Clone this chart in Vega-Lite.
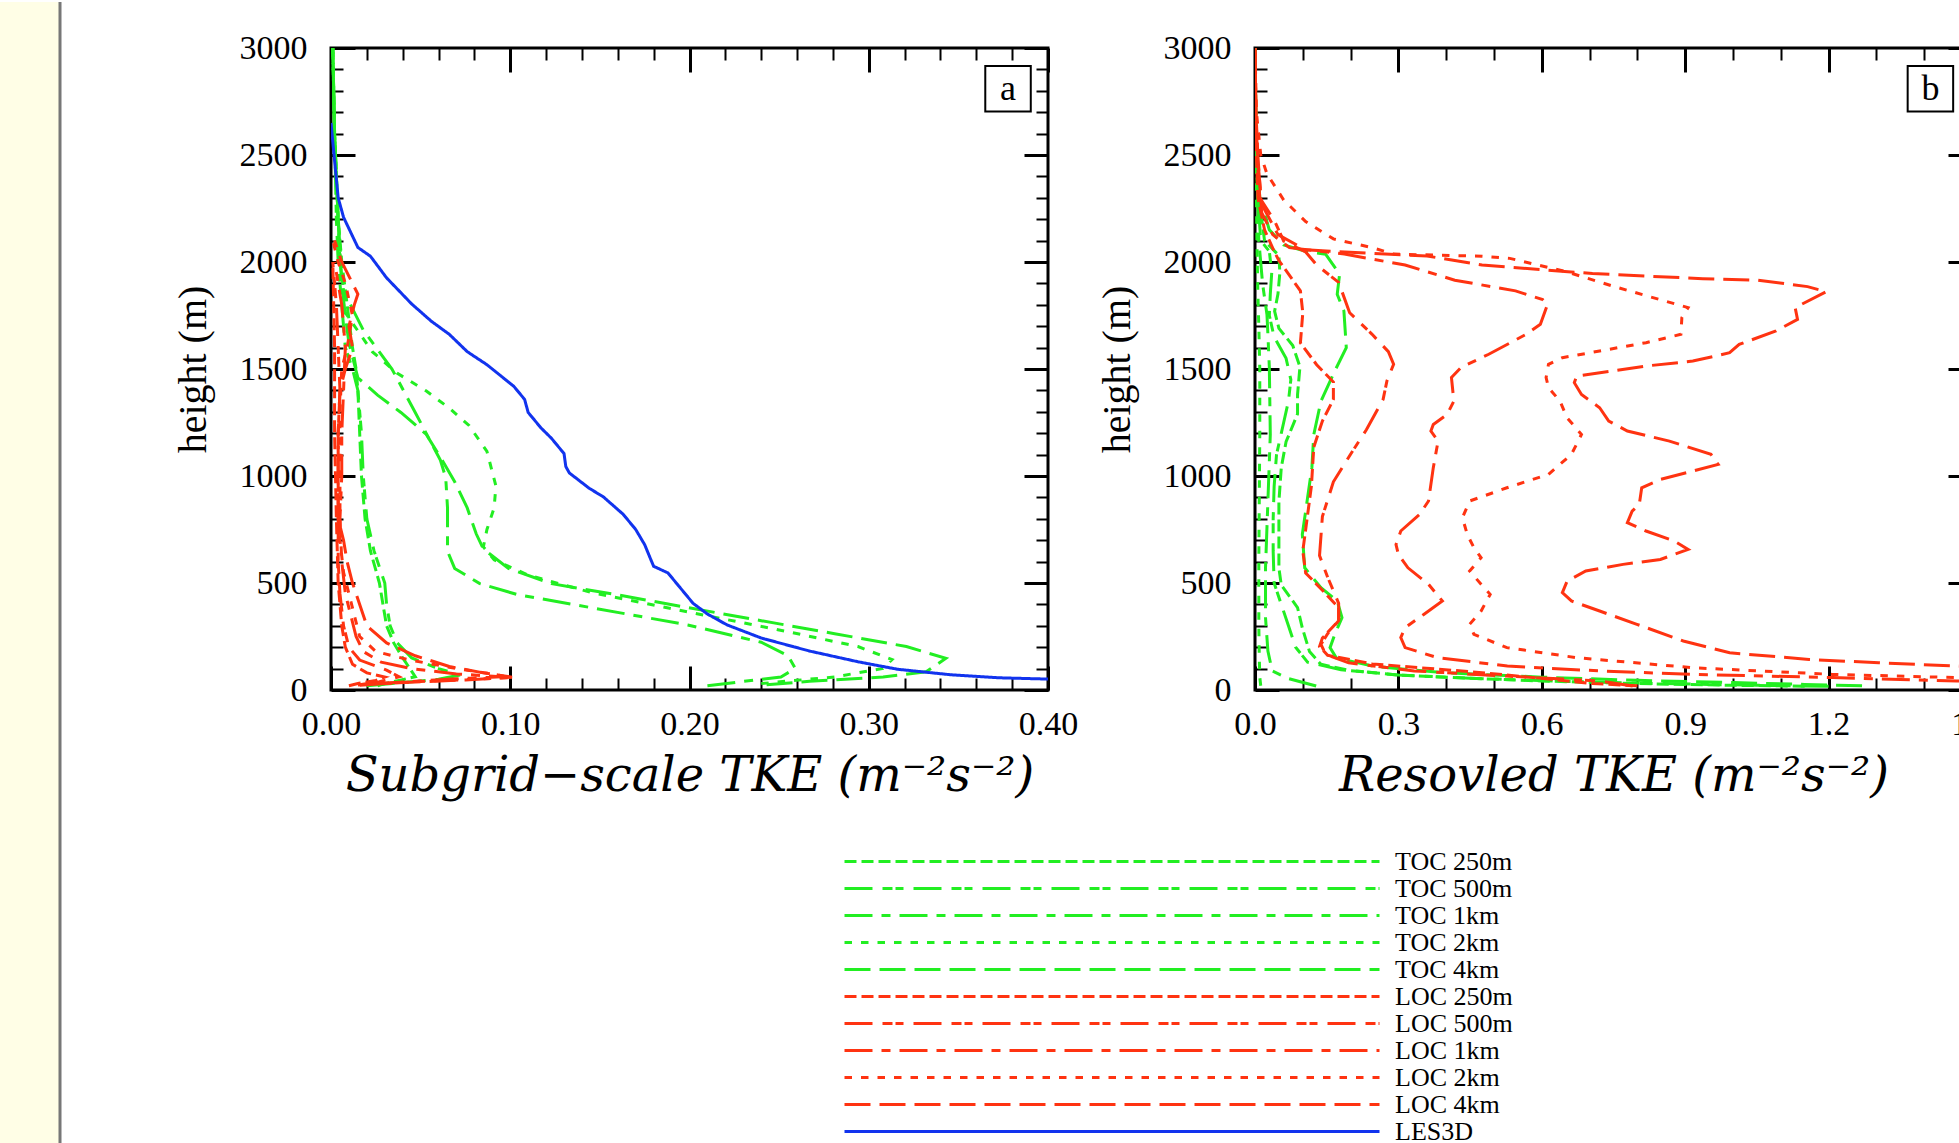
{
"$schema": "https://vega.github.io/schema/vega-lite/v6.json",
"padding": 0,
"background": "white",
"config": {
  "view": {"stroke": null},
  "axis": {"domain": false, "grid": false, "labelFont": "Liberation Serif", "labelFontSize": 34, "labelColor": "black", "tickColor": "black", "titleColor": "black", "titleFontWeight": "normal", "labelFlush": false, "labelOverlap": false, "labelBound": false},
  "legend": {"orient": "none", "legendX": 843, "legendY": 846, "symbolType": "stroke", "symbolSize": 286225, "symbolStrokeWidth": 3, "labelFont": "Liberation Serif", "labelFontSize": 26, "labelColor": "black", "labelLimit": 0, "labelOffset": 14, "clipHeight": 27, "rowPadding": 0, "padding": 0}
},
"datasets": {
"sgs": [
{"run":"TOC 250m","z":3000,"tke":0.001},{"run":"TOC 250m","z":2600,"tke":0.002},{"run":"TOC 250m","z":2200,"tke":0.004},{"run":"TOC 250m","z":2000,"tke":0.006},{"run":"TOC 250m","z":1800,"tke":0.009},{"run":"TOC 250m","z":1600,"tke":0.012},{"run":"TOC 250m","z":1500,"tke":0.014},{"run":"TOC 250m","z":1400,"tke":0.015},{"run":"TOC 250m","z":1200,"tke":0.016},{"run":"TOC 250m","z":1000,"tke":0.017},{"run":"TOC 250m","z":800,"tke":0.019},{"run":"TOC 250m","z":650,"tke":0.022},{"run":"TOC 250m","z":500,"tke":0.027},{"run":"TOC 250m","z":400,"tke":0.029},{"run":"TOC 250m","z":300,"tke":0.031},{"run":"TOC 250m","z":220,"tke":0.035},{"run":"TOC 250m","z":150,"tke":0.040},{"run":"TOC 250m","z":100,"tke":0.044},{"run":"TOC 250m","z":62,"tke":0.047},{"run":"TOC 250m","z":45,"tke":0.038},{"run":"TOC 250m","z":30,"tke":0.030},{"run":"TOC 250m","z":20,"tke":0.026},
{"run":"TOC 500m","z":3000,"tke":0.001},{"run":"TOC 500m","z":2600,"tke":0.002},{"run":"TOC 500m","z":2200,"tke":0.003},{"run":"TOC 500m","z":2000,"tke":0.004},{"run":"TOC 500m","z":1800,"tke":0.006},{"run":"TOC 500m","z":1600,"tke":0.008},{"run":"TOC 500m","z":1500,"tke":0.012},{"run":"TOC 500m","z":1400,"tke":0.015},{"run":"TOC 500m","z":1200,"tke":0.017},{"run":"TOC 500m","z":1000,"tke":0.018},{"run":"TOC 500m","z":800,"tke":0.020},{"run":"TOC 500m","z":650,"tke":0.024},{"run":"TOC 500m","z":500,"tke":0.030},{"run":"TOC 500m","z":400,"tke":0.031},{"run":"TOC 500m","z":300,"tke":0.033},{"run":"TOC 500m","z":220,"tke":0.037},{"run":"TOC 500m","z":150,"tke":0.045},{"run":"TOC 500m","z":100,"tke":0.060},{"run":"TOC 500m","z":70,"tke":0.072},{"run":"TOC 500m","z":50,"tke":0.060},{"run":"TOC 500m","z":35,"tke":0.040},{"run":"TOC 500m","z":20,"tke":0.020},
{"run":"TOC 1km","z":3000,"tke":0.001},{"run":"TOC 1km","z":2600,"tke":0.002},{"run":"TOC 1km","z":2200,"tke":0.004},{"run":"TOC 1km","z":2000,"tke":0.005},{"run":"TOC 1km","z":1865,"tke":0.007},{"run":"TOC 1km","z":1682,"tke":0.018},{"run":"TOC 1km","z":1500,"tke":0.034},{"run":"TOC 1km","z":1297,"tke":0.047},{"run":"TOC 1km","z":1074,"tke":0.061},{"run":"TOC 1km","z":993,"tke":0.064},{"run":"TOC 1km","z":851,"tke":0.065},{"run":"TOC 1km","z":649,"tke":0.065},{"run":"TOC 1km","z":568,"tke":0.069},{"run":"TOC 1km","z":497,"tke":0.083},{"run":"TOC 1km","z":446,"tke":0.104},{"run":"TOC 1km","z":385,"tke":0.145},{"run":"TOC 1km","z":304,"tke":0.199},{"run":"TOC 1km","z":223,"tke":0.240},{"run":"TOC 1km","z":160,"tke":0.255},{"run":"TOC 1km","z":101,"tke":0.259},{"run":"TOC 1km","z":61,"tke":0.251},{"run":"TOC 1km","z":20,"tke":0.210},
{"run":"TOC 2km","z":3000,"tke":0.001},{"run":"TOC 2km","z":2600,"tke":0.002},{"run":"TOC 2km","z":2200,"tke":0.004},{"run":"TOC 2km","z":1950,"tke":0.006},{"run":"TOC 2km","z":1763,"tke":0.008},{"run":"TOC 2km","z":1581,"tke":0.023},{"run":"TOC 2km","z":1480,"tke":0.037},{"run":"TOC 2km","z":1398,"tke":0.053},{"run":"TOC 2km","z":1317,"tke":0.066},{"run":"TOC 2km","z":1236,"tke":0.077},{"run":"TOC 2km","z":1115,"tke":0.087},{"run":"TOC 2km","z":953,"tke":0.092},{"run":"TOC 2km","z":851,"tke":0.091},{"run":"TOC 2km","z":750,"tke":0.087},{"run":"TOC 2km","z":669,"tke":0.085},{"run":"TOC 2km","z":608,"tke":0.091},{"run":"TOC 2km","z":537,"tke":0.110},{"run":"TOC 2km","z":456,"tke":0.145},{"run":"TOC 2km","z":365,"tke":0.199},{"run":"TOC 2km","z":274,"tke":0.254},{"run":"TOC 2km","z":203,"tke":0.294},{"run":"TOC 2km","z":142,"tke":0.313},{"run":"TOC 2km","z":101,"tke":0.308},{"run":"TOC 2km","z":61,"tke":0.281},{"run":"TOC 2km","z":41,"tke":0.254},{"run":"TOC 2km","z":30,"tke":0.240},
{"run":"TOC 4km","z":3000,"tke":0.001},{"run":"TOC 4km","z":2600,"tke":0.002},{"run":"TOC 4km","z":2200,"tke":0.004},{"run":"TOC 4km","z":1900,"tke":0.006},{"run":"TOC 4km","z":1750,"tke":0.008},{"run":"TOC 4km","z":1621,"tke":0.010},{"run":"TOC 4km","z":1459,"tke":0.015},{"run":"TOC 4km","z":1378,"tke":0.026},{"run":"TOC 4km","z":1297,"tke":0.039},{"run":"TOC 4km","z":1196,"tke":0.053},{"run":"TOC 4km","z":1074,"tke":0.062},{"run":"TOC 4km","z":973,"tke":0.069},{"run":"TOC 4km","z":851,"tke":0.076},{"run":"TOC 4km","z":730,"tke":0.081},{"run":"TOC 4km","z":659,"tke":0.085},{"run":"TOC 4km","z":568,"tke":0.099},{"run":"TOC 4km","z":497,"tke":0.123},{"run":"TOC 4km","z":446,"tke":0.159},{"run":"TOC 4km","z":385,"tke":0.199},{"run":"TOC 4km","z":324,"tke":0.240},{"run":"TOC 4km","z":263,"tke":0.281},{"run":"TOC 4km","z":203,"tke":0.321},{"run":"TOC 4km","z":148,"tke":0.343},{"run":"TOC 4km","z":85,"tke":0.332},{"run":"TOC 4km","z":61,"tke":0.308},{"run":"TOC 4km","z":41,"tke":0.267},{"run":"TOC 4km","z":24,"tke":0.243},
{"run":"LOC 250m","z":2000,"tke":0.001},{"run":"LOC 250m","z":1600,"tke":0.002},{"run":"LOC 250m","z":1200,"tke":0.002},{"run":"LOC 250m","z":800,"tke":0.003},{"run":"LOC 250m","z":500,"tke":0.004},{"run":"LOC 250m","z":300,"tke":0.006},{"run":"LOC 250m","z":200,"tke":0.008},{"run":"LOC 250m","z":120,"tke":0.012},{"run":"LOC 250m","z":80,"tke":0.020},{"run":"LOC 250m","z":60,"tke":0.030},{"run":"LOC 250m","z":45,"tke":0.025},{"run":"LOC 250m","z":30,"tke":0.015},{"run":"LOC 250m","z":20,"tke":0.010},
{"run":"LOC 500m","z":2000,"tke":0.001},{"run":"LOC 500m","z":1800,"tke":0.003},{"run":"LOC 500m","z":1600,"tke":0.004},{"run":"LOC 500m","z":1400,"tke":0.005},{"run":"LOC 500m","z":1200,"tke":0.004},{"run":"LOC 500m","z":1000,"tke":0.004},{"run":"LOC 500m","z":800,"tke":0.004},{"run":"LOC 500m","z":600,"tke":0.004},{"run":"LOC 500m","z":450,"tke":0.005},{"run":"LOC 500m","z":300,"tke":0.007},{"run":"LOC 500m","z":200,"tke":0.010},{"run":"LOC 500m","z":140,"tke":0.016},{"run":"LOC 500m","z":93,"tke":0.031},{"run":"LOC 500m","z":62,"tke":0.038},{"run":"LOC 500m","z":39,"tke":0.027},{"run":"LOC 500m","z":23,"tke":0.015},
{"run":"LOC 1km","z":2000,"tke":0.002},{"run":"LOC 1km","z":1800,"tke":0.006},{"run":"LOC 1km","z":1600,"tke":0.008},{"run":"LOC 1km","z":1400,"tke":0.007},{"run":"LOC 1km","z":1200,"tke":0.006},{"run":"LOC 1km","z":1000,"tke":0.006},{"run":"LOC 1km","z":800,"tke":0.005},{"run":"LOC 1km","z":600,"tke":0.006},{"run":"LOC 1km","z":450,"tke":0.008},{"run":"LOC 1km","z":350,"tke":0.011},{"run":"LOC 1km","z":250,"tke":0.014},{"run":"LOC 1km","z":180,"tke":0.018},{"run":"LOC 1km","z":130,"tke":0.028},{"run":"LOC 1km","z":100,"tke":0.045},{"run":"LOC 1km","z":75,"tke":0.070},{"run":"LOC 1km","z":62,"tke":0.095},{"run":"LOC 1km","z":52,"tke":0.070},{"run":"LOC 1km","z":40,"tke":0.045},{"run":"LOC 1km","z":30,"tke":0.025},
{"run":"LOC 2km","z":2100,"tke":0.001},{"run":"LOC 2km","z":2000,"tke":0.004},{"run":"LOC 2km","z":1900,"tke":0.008},{"run":"LOC 2km","z":1750,"tke":0.012},{"run":"LOC 2km","z":1600,"tke":0.009},{"run":"LOC 2km","z":1500,"tke":0.006},{"run":"LOC 2km","z":1300,"tke":0.005},{"run":"LOC 2km","z":1100,"tke":0.005},{"run":"LOC 2km","z":900,"tke":0.005},{"run":"LOC 2km","z":700,"tke":0.005},{"run":"LOC 2km","z":550,"tke":0.007},{"run":"LOC 2km","z":450,"tke":0.010},{"run":"LOC 2km","z":350,"tke":0.013},{"run":"LOC 2km","z":250,"tke":0.016},{"run":"LOC 2km","z":180,"tke":0.025},{"run":"LOC 2km","z":140,"tke":0.044},{"run":"LOC 2km","z":100,"tke":0.070},{"run":"LOC 2km","z":75,"tke":0.090},{"run":"LOC 2km","z":58,"tke":0.100},{"run":"LOC 2km","z":50,"tke":0.080},{"run":"LOC 2km","z":40,"tke":0.050},{"run":"LOC 2km","z":30,"tke":0.030},
{"run":"LOC 4km","z":2100,"tke":0.002},{"run":"LOC 4km","z":2000,"tke":0.006},{"run":"LOC 4km","z":1900,"tke":0.012},{"run":"LOC 4km","z":1850,"tke":0.015},{"run":"LOC 4km","z":1800,"tke":0.013},{"run":"LOC 4km","z":1700,"tke":0.010},{"run":"LOC 4km","z":1600,"tke":0.012},{"run":"LOC 4km","z":1500,"tke":0.008},{"run":"LOC 4km","z":1400,"tke":0.005},{"run":"LOC 4km","z":1200,"tke":0.004},{"run":"LOC 4km","z":1000,"tke":0.004},{"run":"LOC 4km","z":800,"tke":0.004},{"run":"LOC 4km","z":700,"tke":0.007},{"run":"LOC 4km","z":600,"tke":0.009},{"run":"LOC 4km","z":500,"tke":0.012},{"run":"LOC 4km","z":400,"tke":0.016},{"run":"LOC 4km","z":300,"tke":0.020},{"run":"LOC 4km","z":220,"tke":0.031},{"run":"LOC 4km","z":160,"tke":0.047},{"run":"LOC 4km","z":110,"tke":0.066},{"run":"LOC 4km","z":80,"tke":0.085},{"run":"LOC 4km","z":60,"tke":0.101},{"run":"LOC 4km","z":47,"tke":0.075},{"run":"LOC 4km","z":34,"tke":0.038},{"run":"LOC 4km","z":22,"tke":0.016},
{"run":"LES3D","z":2650,"tke":0.000},{"run":"LES3D","z":2473,"tke":0.002},{"run":"LES3D","z":2300,"tke":0.004},{"run":"LES3D","z":2209,"tke":0.007},{"run":"LES3D","z":2068,"tke":0.015},{"run":"LES3D","z":2027,"tke":0.022},{"run":"LES3D","z":1926,"tke":0.031},{"run":"LES3D","z":1804,"tke":0.045},{"run":"LES3D","z":1723,"tke":0.056},{"run":"LES3D","z":1662,"tke":0.066},{"run":"LES3D","z":1581,"tke":0.076},{"run":"LES3D","z":1520,"tke":0.087},{"run":"LES3D","z":1419,"tke":0.102},{"run":"LES3D","z":1358,"tke":0.108},{"run":"LES3D","z":1297,"tke":0.110},{"run":"LES3D","z":1226,"tke":0.117},{"run":"LES3D","z":1176,"tke":0.123},{"run":"LES3D","z":1105,"tke":0.130},{"run":"LES3D","z":1044,"tke":0.131},{"run":"LES3D","z":1014,"tke":0.133},{"run":"LES3D","z":943,"tke":0.144},{"run":"LES3D","z":902,"tke":0.152},{"run":"LES3D","z":821,"tke":0.163},{"run":"LES3D","z":750,"tke":0.170},{"run":"LES3D","z":679,"tke":0.175},{"run":"LES3D","z":618,"tke":0.178},{"run":"LES3D","z":578,"tke":0.180},{"run":"LES3D","z":547,"tke":0.188},{"run":"LES3D","z":486,"tke":0.194},{"run":"LES3D","z":405,"tke":0.202},{"run":"LES3D","z":355,"tke":0.210},{"run":"LES3D","z":304,"tke":0.221},{"run":"LES3D","z":243,"tke":0.240},{"run":"LES3D","z":182,"tke":0.267},{"run":"LES3D","z":132,"tke":0.294},{"run":"LES3D","z":97,"tke":0.316},{"run":"LES3D","z":71,"tke":0.346},{"run":"LES3D","z":57,"tke":0.373},{"run":"LES3D","z":51,"tke":0.400},{"run":"LES3D","z":49,"tke":0.420}
],
"res": [
{"run":"TOC 250m","z":3000,"tke":0.000},{"run":"TOC 250m","z":2600,"tke":0.002},{"run":"TOC 250m","z":2300,"tke":0.008},{"run":"TOC 250m","z":2100,"tke":0.020},{"run":"TOC 250m","z":2030,"tke":0.050},{"run":"TOC 250m","z":1950,"tke":0.052},{"run":"TOC 250m","z":1850,"tke":0.048},{"run":"TOC 250m","z":1770,"tke":0.041},{"run":"TOC 250m","z":1690,"tke":0.050},{"run":"TOC 250m","z":1610,"tke":0.079},{"run":"TOC 250m","z":1510,"tke":0.094},{"run":"TOC 250m","z":1380,"tke":0.089},{"run":"TOC 250m","z":1290,"tke":0.089},{"run":"TOC 250m","z":1160,"tke":0.065},{"run":"TOC 250m","z":1040,"tke":0.055},{"run":"TOC 250m","z":880,"tke":0.050},{"run":"TOC 250m","z":730,"tke":0.050},{"run":"TOC 250m","z":570,"tke":0.050},{"run":"TOC 250m","z":490,"tke":0.055},{"run":"TOC 250m","z":385,"tke":0.089},{"run":"TOC 250m","z":290,"tke":0.099},{"run":"TOC 250m","z":180,"tke":0.114},{"run":"TOC 250m","z":120,"tke":0.138},{"run":"TOC 250m","z":90,"tke":0.200},{"run":"TOC 250m","z":70,"tke":0.300},{"run":"TOC 250m","z":55,"tke":0.450},{"run":"TOC 250m","z":42,"tke":0.600},{"run":"TOC 250m","z":30,"tke":0.800},{"run":"TOC 250m","z":22,"tke":1.000},{"run":"TOC 250m","z":18,"tke":1.150},
{"run":"TOC 500m","z":3000,"tke":0.000},{"run":"TOC 500m","z":2600,"tke":0.002},{"run":"TOC 500m","z":2300,"tke":0.006},{"run":"TOC 500m","z":2100,"tke":0.012},{"run":"TOC 500m","z":2050,"tke":0.030},{"run":"TOC 500m","z":1950,"tke":0.035},{"run":"TOC 500m","z":1850,"tke":0.032},{"run":"TOC 500m","z":1750,"tke":0.030},{"run":"TOC 500m","z":1650,"tke":0.040},{"run":"TOC 500m","z":1550,"tke":0.065},{"run":"TOC 500m","z":1450,"tke":0.075},{"run":"TOC 500m","z":1350,"tke":0.070},{"run":"TOC 500m","z":1250,"tke":0.060},{"run":"TOC 500m","z":1100,"tke":0.045},{"run":"TOC 500m","z":950,"tke":0.040},{"run":"TOC 500m","z":800,"tke":0.038},{"run":"TOC 500m","z":650,"tke":0.038},{"run":"TOC 500m","z":500,"tke":0.040},{"run":"TOC 500m","z":400,"tke":0.055},{"run":"TOC 500m","z":300,"tke":0.070},{"run":"TOC 500m","z":200,"tke":0.085},{"run":"TOC 500m","z":130,"tke":0.110},{"run":"TOC 500m","z":95,"tke":0.180},{"run":"TOC 500m","z":70,"tke":0.300},{"run":"TOC 500m","z":55,"tke":0.450},{"run":"TOC 500m","z":40,"tke":0.650},{"run":"TOC 500m","z":30,"tke":0.850},{"run":"TOC 500m","z":22,"tke":1.050},{"run":"TOC 500m","z":17,"tke":1.200},
{"run":"TOC 1km","z":3000,"tke":0.000},{"run":"TOC 1km","z":2500,"tke":0.003},{"run":"TOC 1km","z":2100,"tke":0.008},{"run":"TOC 1km","z":1896,"tke":0.016},{"run":"TOC 1km","z":1755,"tke":0.025},{"run":"TOC 1km","z":1662,"tke":0.027},{"run":"TOC 1km","z":1507,"tke":0.030},{"run":"TOC 1km","z":1194,"tke":0.032},{"run":"TOC 1km","z":883,"tke":0.027},{"run":"TOC 1km","z":571,"tke":0.022},{"run":"TOC 1km","z":338,"tke":0.022},{"run":"TOC 1km","z":182,"tke":0.027},{"run":"TOC 1km","z":89,"tke":0.036},{"run":"TOC 1km","z":54,"tke":0.069},{"run":"TOC 1km","z":19,"tke":0.128},
{"run":"TOC 2km","z":3000,"tke":0.000},{"run":"TOC 2km","z":2500,"tke":0.002},{"run":"TOC 2km","z":2100,"tke":0.004},{"run":"TOC 2km","z":1850,"tke":0.006},{"run":"TOC 2km","z":1700,"tke":0.008},{"run":"TOC 2km","z":1500,"tke":0.010},{"run":"TOC 2km","z":1200,"tke":0.010},{"run":"TOC 2km","z":900,"tke":0.009},{"run":"TOC 2km","z":600,"tke":0.008},{"run":"TOC 2km","z":300,"tke":0.008},{"run":"TOC 2km","z":150,"tke":0.009},{"run":"TOC 2km","z":60,"tke":0.010},{"run":"TOC 2km","z":20,"tke":0.012},
{"run":"TOC 4km","z":3000,"tke":0.000},{"run":"TOC 4km","z":2600,"tke":0.002},{"run":"TOC 4km","z":2300,"tke":0.010},{"run":"TOC 4km","z":2150,"tke":0.030},{"run":"TOC 4km","z":2080,"tke":0.060},{"run":"TOC 4km","z":2050,"tke":0.106},{"run":"TOC 4km","z":2036,"tke":0.148},{"run":"TOC 4km","z":1943,"tke":0.177},{"run":"TOC 4km","z":1849,"tke":0.172},{"run":"TOC 4km","z":1771,"tke":0.186},{"run":"TOC 4km","z":1600,"tke":0.191},{"run":"TOC 4km","z":1491,"tke":0.167},{"run":"TOC 4km","z":1350,"tke":0.138},{"run":"TOC 4km","z":1194,"tke":0.123},{"run":"TOC 4km","z":1039,"tke":0.119},{"run":"TOC 4km","z":883,"tke":0.109},{"run":"TOC 4km","z":727,"tke":0.099},{"run":"TOC 4km","z":571,"tke":0.104},{"run":"TOC 4km","z":478,"tke":0.138},{"run":"TOC 4km","z":416,"tke":0.172},{"run":"TOC 4km","z":338,"tke":0.182},{"run":"TOC 4km","z":260,"tke":0.167},{"run":"TOC 4km","z":198,"tke":0.157},{"run":"TOC 4km","z":150,"tke":0.170},{"run":"TOC 4km","z":110,"tke":0.250},{"run":"TOC 4km","z":80,"tke":0.400},{"run":"TOC 4km","z":60,"tke":0.600},{"run":"TOC 4km","z":45,"tke":0.800},{"run":"TOC 4km","z":35,"tke":1.000},{"run":"TOC 4km","z":26,"tke":1.150},{"run":"TOC 4km","z":20,"tke":1.270},
{"run":"LOC 250m","z":3000,"tke":0.000},{"run":"LOC 250m","z":2700,"tke":0.001},{"run":"LOC 250m","z":2500,"tke":0.003},{"run":"LOC 250m","z":2300,"tke":0.006},{"run":"LOC 250m","z":2150,"tke":0.020},{"run":"LOC 250m","z":2050,"tke":0.040},{"run":"LOC 250m","z":2007,"tke":0.050},{"run":"LOC 250m","z":1865,"tke":0.095},{"run":"LOC 250m","z":1763,"tke":0.100},{"run":"LOC 250m","z":1622,"tke":0.095},{"run":"LOC 250m","z":1520,"tke":0.129},{"run":"LOC 250m","z":1439,"tke":0.164},{"run":"LOC 250m","z":1358,"tke":0.164},{"run":"LOC 250m","z":1257,"tke":0.141},{"run":"LOC 250m","z":1135,"tke":0.123},{"run":"LOC 250m","z":953,"tke":0.118},{"run":"LOC 250m","z":750,"tke":0.106},{"run":"LOC 250m","z":649,"tke":0.100},{"run":"LOC 250m","z":547,"tke":0.106},{"run":"LOC 250m","z":466,"tke":0.141},{"run":"LOC 250m","z":385,"tke":0.175},{"run":"LOC 250m","z":324,"tke":0.175},{"run":"LOC 250m","z":243,"tke":0.141},{"run":"LOC 250m","z":203,"tke":0.135},{"run":"LOC 250m","z":162,"tke":0.152},{"run":"LOC 250m","z":122,"tke":0.245},{"run":"LOC 250m","z":81,"tke":0.475},{"run":"LOC 250m","z":50,"tke":0.620},{"run":"LOC 250m","z":30,"tke":0.706},{"run":"LOC 250m","z":20,"tke":0.800},
{"run":"LOC 500m","z":3000,"tke":0.000},{"run":"LOC 500m","z":2700,"tke":0.001},{"run":"LOC 500m","z":2500,"tke":0.004},{"run":"LOC 500m","z":2300,"tke":0.010},{"run":"LOC 500m","z":2192,"tke":0.041},{"run":"LOC 500m","z":2098,"tke":0.060},{"run":"LOC 500m","z":2047,"tke":0.106},{"run":"LOC 500m","z":1986,"tke":0.129},{"run":"LOC 500m","z":1905,"tke":0.175},{"run":"LOC 500m","z":1763,"tke":0.198},{"run":"LOC 500m","z":1662,"tke":0.245},{"run":"LOC 500m","z":1581,"tke":0.279},{"run":"LOC 500m","z":1522,"tke":0.290},{"run":"LOC 500m","z":1444,"tke":0.276},{"run":"LOC 500m","z":1358,"tke":0.268},{"run":"LOC 500m","z":1216,"tke":0.233},{"run":"LOC 500m","z":1095,"tke":0.198},{"run":"LOC 500m","z":973,"tke":0.164},{"run":"LOC 500m","z":811,"tke":0.141},{"run":"LOC 500m","z":628,"tke":0.135},{"run":"LOC 500m","z":527,"tke":0.152},{"run":"LOC 500m","z":405,"tke":0.175},{"run":"LOC 500m","z":324,"tke":0.175},{"run":"LOC 500m","z":263,"tke":0.152},{"run":"LOC 500m","z":213,"tke":0.138},{"run":"LOC 500m","z":166,"tke":0.148},{"run":"LOC 500m","z":127,"tke":0.196},{"run":"LOC 500m","z":89,"tke":0.333},{"run":"LOC 500m","z":65,"tke":0.527},{"run":"LOC 500m","z":42,"tke":0.722},{"run":"LOC 500m","z":19,"tke":0.790},
{"run":"LOC 1km","z":3000,"tke":0.000},{"run":"LOC 1km","z":2700,"tke":0.002},{"run":"LOC 1km","z":2500,"tke":0.006},{"run":"LOC 1km","z":2230,"tke":0.014},{"run":"LOC 1km","z":2128,"tke":0.037},{"run":"LOC 1km","z":2067,"tke":0.072},{"run":"LOC 1km","z":2037,"tke":0.187},{"run":"LOC 1km","z":1986,"tke":0.314},{"run":"LOC 1km","z":1915,"tke":0.418},{"run":"LOC 1km","z":1865,"tke":0.545},{"run":"LOC 1km","z":1824,"tke":0.602},{"run":"LOC 1km","z":1802,"tke":0.612},{"run":"LOC 1km","z":1709,"tke":0.597},{"run":"LOC 1km","z":1662,"tke":0.567},{"run":"LOC 1km","z":1569,"tke":0.489},{"run":"LOC 1km","z":1507,"tke":0.431},{"run":"LOC 1km","z":1460,"tke":0.411},{"run":"LOC 1km","z":1350,"tke":0.416},{"run":"LOC 1km","z":1288,"tke":0.402},{"run":"LOC 1km","z":1241,"tke":0.373},{"run":"LOC 1km","z":1210,"tke":0.368},{"run":"LOC 1km","z":1163,"tke":0.383},{"run":"LOC 1km","z":1039,"tke":0.373},{"run":"LOC 1km","z":883,"tke":0.363},{"run":"LOC 1km","z":820,"tke":0.344},{"run":"LOC 1km","z":743,"tke":0.305},{"run":"LOC 1km","z":680,"tke":0.295},{"run":"LOC 1km","z":633,"tke":0.300},{"run":"LOC 1km","z":571,"tke":0.320},{"run":"LOC 1km","z":494,"tke":0.363},{"run":"LOC 1km","z":416,"tke":0.392},{"run":"LOC 1km","z":353,"tke":0.353},{"run":"LOC 1km","z":291,"tke":0.314},{"run":"LOC 1km","z":245,"tke":0.305},{"run":"LOC 1km","z":198,"tke":0.314},{"run":"LOC 1km","z":151,"tke":0.382},{"run":"LOC 1km","z":112,"tke":0.528},{"run":"LOC 1km","z":89,"tke":0.722},{"run":"LOC 1km","z":73,"tke":0.916},{"run":"LOC 1km","z":58,"tke":1.208},{"run":"LOC 1km","z":42,"tke":1.468},{"run":"LOC 1km","z":35,"tke":1.600},
{"run":"LOC 2km","z":3000,"tke":0.000},{"run":"LOC 2km","z":2700,"tke":0.003},{"run":"LOC 2km","z":2500,"tke":0.012},{"run":"LOC 2km","z":2412,"tke":0.025},{"run":"LOC 2km","z":2290,"tke":0.060},{"run":"LOC 2km","z":2189,"tke":0.106},{"run":"LOC 2km","z":2108,"tke":0.164},{"run":"LOC 2km","z":2067,"tke":0.245},{"run":"LOC 2km","z":2037,"tke":0.291},{"run":"LOC 2km","z":2027,"tke":0.475},{"run":"LOC 2km","z":2017,"tke":0.533},{"run":"LOC 2km","z":1956,"tke":0.649},{"run":"LOC 2km","z":1885,"tke":0.752},{"run":"LOC 2km","z":1804,"tke":0.879},{"run":"LOC 2km","z":1787,"tke":0.906},{"run":"LOC 2km","z":1740,"tke":0.893},{"run":"LOC 2km","z":1662,"tke":0.891},{"run":"LOC 2km","z":1623,"tke":0.818},{"run":"LOC 2km","z":1584,"tke":0.721},{"run":"LOC 2km","z":1553,"tke":0.643},{"run":"LOC 2km","z":1522,"tke":0.614},{"run":"LOC 2km","z":1460,"tke":0.609},{"run":"LOC 2km","z":1413,"tke":0.614},{"run":"LOC 2km","z":1350,"tke":0.638},{"run":"LOC 2km","z":1272,"tke":0.653},{"run":"LOC 2km","z":1194,"tke":0.683},{"run":"LOC 2km","z":1101,"tke":0.662},{"run":"LOC 2km","z":1008,"tke":0.614},{"run":"LOC 2km","z":945,"tke":0.527},{"run":"LOC 2km","z":883,"tke":0.449},{"run":"LOC 2km","z":805,"tke":0.434},{"run":"LOC 2km","z":727,"tke":0.444},{"run":"LOC 2km","z":665,"tke":0.458},{"run":"LOC 2km","z":618,"tke":0.473},{"run":"LOC 2km","z":556,"tke":0.449},{"run":"LOC 2km","z":494,"tke":0.473},{"run":"LOC 2km","z":447,"tke":0.492},{"run":"LOC 2km","z":369,"tke":0.473},{"run":"LOC 2km","z":307,"tke":0.449},{"run":"LOC 2km","z":260,"tke":0.458},{"run":"LOC 2km","z":198,"tke":0.527},{"run":"LOC 2km","z":151,"tke":0.673},{"run":"LOC 2km","z":104,"tke":0.916},{"run":"LOC 2km","z":73,"tke":1.208},{"run":"LOC 2km","z":58,"tke":1.468},{"run":"LOC 2km","z":50,"tke":1.600},
{"run":"LOC 4km","z":3000,"tke":0.000},{"run":"LOC 4km","z":2700,"tke":0.002},{"run":"LOC 4km","z":2500,"tke":0.005},{"run":"LOC 4km","z":2270,"tke":0.014},{"run":"LOC 4km","z":2128,"tke":0.048},{"run":"LOC 4km","z":2057,"tke":0.106},{"run":"LOC 4km","z":2040,"tke":0.245},{"run":"LOC 4km","z":2028,"tke":0.360},{"run":"LOC 4km","z":1986,"tke":0.475},{"run":"LOC 4km","z":1946,"tke":0.706},{"run":"LOC 4km","z":1922,"tke":0.937},{"run":"LOC 4km","z":1915,"tke":1.052},{"run":"LOC 4km","z":1885,"tke":1.156},{"run":"LOC 4km","z":1861,"tke":1.195},{"run":"LOC 4km","z":1787,"tke":1.130},{"run":"LOC 4km","z":1732,"tke":1.135},{"run":"LOC 4km","z":1678,"tke":1.090},{"run":"LOC 4km","z":1615,"tke":1.013},{"run":"LOC 4km","z":1576,"tke":0.993},{"run":"LOC 4km","z":1537,"tke":0.916},{"run":"LOC 4km","z":1514,"tke":0.818},{"run":"LOC 4km","z":1467,"tke":0.673},{"run":"LOC 4km","z":1436,"tke":0.668},{"run":"LOC 4km","z":1381,"tke":0.683},{"run":"LOC 4km","z":1319,"tke":0.721},{"run":"LOC 4km","z":1257,"tke":0.740},{"run":"LOC 4km","z":1210,"tke":0.779},{"run":"LOC 4km","z":1163,"tke":0.867},{"run":"LOC 4km","z":1101,"tke":0.954},{"run":"LOC 4km","z":1054,"tke":0.969},{"run":"LOC 4km","z":1023,"tke":0.916},{"run":"LOC 4km","z":984,"tke":0.848},{"run":"LOC 4km","z":945,"tke":0.809},{"run":"LOC 4km","z":868,"tke":0.804},{"run":"LOC 4km","z":836,"tke":0.789},{"run":"LOC 4km","z":782,"tke":0.779},{"run":"LOC 4km","z":743,"tke":0.818},{"run":"LOC 4km","z":696,"tke":0.877},{"run":"LOC 4km","z":657,"tke":0.906},{"run":"LOC 4km","z":610,"tke":0.848},{"run":"LOC 4km","z":587,"tke":0.770},{"run":"LOC 4km","z":556,"tke":0.692},{"run":"LOC 4km","z":509,"tke":0.653},{"run":"LOC 4km","z":455,"tke":0.643},{"run":"LOC 4km","z":416,"tke":0.662},{"run":"LOC 4km","z":369,"tke":0.721},{"run":"LOC 4km","z":307,"tke":0.799},{"run":"LOC 4km","z":229,"tke":0.896},{"run":"LOC 4km","z":174,"tke":0.993},{"run":"LOC 4km","z":143,"tke":1.159},{"run":"LOC 4km","z":127,"tke":1.305},{"run":"LOC 4km","z":112,"tke":1.468},{"run":"LOC 4km","z":100,"tke":1.600}
]
},
"spacing": 109,
"resolve": {"scale": {"color": "shared", "strokeDash": "shared"}, "legend": {"color": "shared", "strokeDash": "shared"}},
"hconcat": [
{
  "width": 60, "height": 1143,
  "view": {"fill": "#fffee6", "stroke": null},
  "data": {"values": [{"edge": 1}]},
  "mark": {"type": "rule", "color": "#777777", "strokeWidth": 3},
  "encoding": {"x": {"field": "edge", "type": "quantitative", "scale": {"domain": [0, 1]}, "axis": null}}
},
{
  "spacing": 0,
  "resolve": {"scale": {"color": "shared", "strokeDash": "shared"}, "legend": {"color": "shared", "strokeDash": "shared"}},
  "vconcat": [
  {
    "width": 20, "height": 27,
    "view": {"fill": "white", "stroke": null},
    "data": {"values": []},
    "mark": "point"
  },
  {
    "spacing": 15,
    "resolve": {"scale": {"color": "shared", "strokeDash": "shared"}, "legend": {"color": "shared", "strokeDash": "shared"}},
    "hconcat": [
    {
      "width": 717, "height": 642,
      "view": {"stroke": "black", "strokeWidth": 3},
      "resolve": {"axis": {"x": "independent", "y": "independent"}},
      "layer": [
      {
        "data": {"name": "sgs"},
        "transform": [{"filter": {"field": "run", "oneOf": ["TOC 250m","TOC 500m","TOC 1km","TOC 2km","TOC 4km"]}}],
        "mark": {"type": "line", "strokeWidth": 3, "clip": true},
        "encoding": {
          "x": {"field": "tke", "type": "quantitative", "scale": {"domain": [0, 0.4], "nice": false, "zero": false},
                "axis": {"orient": "bottom", "values": [0,0.1,0.2,0.3,0.4], "format": ".2f", "tickSize": -24, "tickWidth": 3, "labelPadding": 41,
                         "title": "Subgrid−scale   TKE   (m⁻²s⁻²)", "titleFont": "DejaVu Serif", "titleFontStyle": "italic", "titleFontSize": 48, "titlePadding": 11}},
          "y": {"field": "z", "type": "quantitative", "scale": {"domain": [0, 3000], "nice": false, "zero": false},
                "axis": {"orient": "left", "values": [0,500,1000,1500,2000,2500,3000], "format": "d", "tickSize": -24, "tickWidth": 3, "labelPadding": 48,
                         "title": "height (m)", "titleFont": "Liberation Serif", "titleFontSize": 40, "titlePadding": 26}},
          "color": {"field": "run", "type": "nominal", "scale": {"domain": ["TOC 250m","TOC 500m","TOC 1km","TOC 2km","TOC 4km","LOC 250m","LOC 500m","LOC 1km","LOC 2km","LOC 4km","LES3D"], "range": ["#22ee22","#22ee22","#22ee22","#22ee22","#22ee22","#ff3311","#ff3311","#ff3311","#ff3311","#ff3311","#1133ee"]}, "legend": {"title": null}},
          "strokeDash": {"field": "run", "type": "nominal", "scale": {"domain": ["TOC 250m","TOC 500m","TOC 1km","TOC 2km","TOC 4km","LOC 250m","LOC 500m","LOC 1km","LOC 2km","LOC 4km","LES3D"], "range": [[12,5],[28,10,10,3,8,10],[28,9,9,9],[7.5,9],[26,9],[12,5],[28,10,10,3,8,10],[28,9,9,9],[7.5,9],[26,9],[1,0]]}, "legend": {"title": null}},
          "order": {"field": "z", "type": "quantitative"}
        }
      },
      {
        "data": {"name": "sgs"},
        "transform": [{"filter": {"field": "run", "oneOf": ["LOC 250m","LOC 500m","LOC 1km","LOC 2km","LOC 4km","LES3D"]}}],
        "mark": {"type": "line", "strokeWidth": 3, "clip": true},
        "encoding": {
          "x": {"field": "tke", "type": "quantitative", "axis": {"orient": "bottom", "values": [0.02,0.04,0.06,0.08,0.12,0.14,0.16,0.18,0.22,0.24,0.26,0.28,0.32,0.34,0.36,0.38], "labels": false, "tickSize": -12, "tickWidth": 2, "title": null}},
          "y": {"field": "z", "type": "quantitative", "axis": {"orient": "left", "values": [100,200,300,400,600,700,800,900,1100,1200,1300,1400,1600,1700,1800,1900,2100,2200,2300,2400,2600,2700,2800,2900], "labels": false, "tickSize": -12, "tickWidth": 2, "title": null}},
          "color": {"field": "run", "type": "nominal", "legend": {"title": null}},
          "strokeDash": {"field": "run", "type": "nominal", "legend": {"title": null}},
          "order": {"field": "z", "type": "quantitative"}
        }
      },
      {
        "data": {"values": [{"panel": "a"}]},
        "mark": {"type": "point", "shape": "square", "size": 2070, "filled": true, "fill": "white", "stroke": "black", "strokeWidth": 2, "opacity": 1},
        "encoding": {
          "x": {"datum": 0.3777, "type": "quantitative", "axis": {"orient": "top", "values": [0,0.1,0.2,0.3,0.4], "labels": false, "tickSize": -24, "tickWidth": 3, "title": null}},
          "y": {"datum": 2810, "type": "quantitative", "axis": {"orient": "right", "values": [0,500,1000,1500,2000,2500,3000], "labels": false, "tickSize": -24, "tickWidth": 3, "title": null}}
        }
      },
      {
        "data": {"values": [{"panel": "a"}]},
        "mark": {"type": "text", "font": "Liberation Serif", "fontSize": 36, "color": "black", "baseline": "middle", "align": "center"},
        "encoding": {
          "x": {"datum": 0.3777, "type": "quantitative", "axis": {"orient": "top", "values": [0.02,0.04,0.06,0.08,0.12,0.14,0.16,0.18,0.22,0.24,0.26,0.28,0.32,0.34,0.36,0.38], "labels": false, "tickSize": -12, "tickWidth": 2, "title": null}},
          "y": {"datum": 2810, "type": "quantitative", "axis": {"orient": "right", "values": [100,200,300,400,600,700,800,900,1100,1200,1300,1400,1600,1700,1800,1900,2100,2200,2300,2400,2600,2700,2800,2900], "labels": false, "tickSize": -12, "tickWidth": 2, "title": null}},
          "text": {"field": "panel"}
        }
      }
      ]
    },
    {
      "width": 717, "height": 642,
      "view": {"stroke": "black", "strokeWidth": 3},
      "resolve": {"axis": {"x": "independent", "y": "independent"}},
      "layer": [
      {
        "data": {"name": "res"},
        "transform": [{"filter": {"field": "run", "oneOf": ["TOC 250m","TOC 500m","TOC 1km","TOC 2km","TOC 4km"]}}],
        "mark": {"type": "line", "strokeWidth": 3, "clip": true},
        "encoding": {
          "x": {"field": "tke", "type": "quantitative", "scale": {"domain": [0, 1.5], "nice": false, "zero": false},
                "axis": {"orient": "bottom", "values": [0,0.3,0.6,0.9,1.2,1.5], "format": ".1f", "tickSize": -24, "tickWidth": 3, "labelPadding": 41,
                         "title": "Resovled   TKE   (m⁻²s⁻²)", "titleFont": "DejaVu Serif", "titleFontStyle": "italic", "titleFontSize": 48, "titlePadding": 11}},
          "y": {"field": "z", "type": "quantitative", "scale": {"domain": [0, 3000], "nice": false, "zero": false},
                "axis": {"orient": "left", "values": [0,500,1000,1500,2000,2500,3000], "format": "d", "tickSize": -24, "tickWidth": 3, "labelPadding": 48,
                         "title": "height (m)", "titleFont": "Liberation Serif", "titleFontSize": 40, "titlePadding": 26}},
          "color": {"field": "run", "type": "nominal", "legend": {"title": null}},
          "strokeDash": {"field": "run", "type": "nominal", "legend": {"title": null}},
          "order": {"field": "z", "type": "quantitative"}
        }
      },
      {
        "data": {"name": "res"},
        "transform": [{"filter": {"field": "run", "oneOf": ["LOC 250m","LOC 500m","LOC 1km","LOC 2km","LOC 4km","LES3D"]}}],
        "mark": {"type": "line", "strokeWidth": 3, "clip": true},
        "encoding": {
          "x": {"field": "tke", "type": "quantitative", "axis": {"orient": "bottom", "values": [0.1,0.2,0.4,0.5,0.7,0.8,1.0,1.1,1.3,1.4], "labels": false, "tickSize": -12, "tickWidth": 2, "title": null}},
          "y": {"field": "z", "type": "quantitative", "axis": {"orient": "left", "values": [100,200,300,400,600,700,800,900,1100,1200,1300,1400,1600,1700,1800,1900,2100,2200,2300,2400,2600,2700,2800,2900], "labels": false, "tickSize": -12, "tickWidth": 2, "title": null}},
          "color": {"field": "run", "type": "nominal", "legend": {"title": null}},
          "strokeDash": {"field": "run", "type": "nominal", "legend": {"title": null}},
          "order": {"field": "z", "type": "quantitative"}
        }
      },
      {
        "data": {"values": [{"panel": "b"}]},
        "mark": {"type": "point", "shape": "square", "size": 2070, "filled": true, "fill": "white", "stroke": "black", "strokeWidth": 2, "opacity": 1},
        "encoding": {
          "x": {"datum": 1.413, "type": "quantitative", "axis": {"orient": "top", "values": [0,0.3,0.6,0.9,1.2,1.5], "labels": false, "tickSize": -24, "tickWidth": 3, "title": null}},
          "y": {"datum": 2810, "type": "quantitative", "axis": {"orient": "right", "values": [0,500,1000,1500,2000,2500,3000], "labels": false, "tickSize": -24, "tickWidth": 3, "title": null}}
        }
      },
      {
        "data": {"values": [{"panel": "b"}]},
        "mark": {"type": "text", "font": "Liberation Serif", "fontSize": 36, "color": "black", "baseline": "middle", "align": "center"},
        "encoding": {
          "x": {"datum": 1.413, "type": "quantitative", "axis": {"orient": "top", "values": [0.1,0.2,0.4,0.5,0.7,0.8,1.0,1.1,1.3,1.4], "labels": false, "tickSize": -12, "tickWidth": 2, "title": null}},
          "y": {"datum": 2810, "type": "quantitative", "axis": {"orient": "right", "values": [100,200,300,400,600,700,800,900,1100,1200,1300,1400,1600,1700,1800,1900,2100,2200,2300,2400,2600,2700,2800,2900], "labels": false, "tickSize": -12, "tickWidth": 2, "title": null}},
          "text": {"field": "panel"}
        }
      }
      ]
    }
    ]
  }
  ]
}
]
}
